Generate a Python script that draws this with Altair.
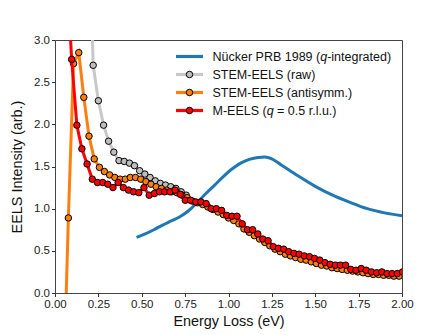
import altair as alt
import pandas as pd

# ---------------- data ----------------
nucker_x = [0.47, 0.52, 0.57, 0.62, 0.67, 0.72, 0.77, 0.82, 0.87, 0.92, 0.97, 1.02, 1.07,
            1.12, 1.17, 1.21, 1.25, 1.30, 1.40, 1.50, 1.60, 1.70, 1.80, 1.90, 2.00]
nucker_y = [0.66, 0.70, 0.75, 0.805, 0.855, 0.905, 0.975, 1.075, 1.18, 1.28, 1.38, 1.47, 1.54,
            1.585, 1.608, 1.612, 1.59, 1.525, 1.39, 1.265, 1.16, 1.075, 1.00, 0.95, 0.915]

raw_x = [0.190, 0.220, 0.250, 0.280, 0.309, 0.339, 0.369, 0.399, 0.429, 0.458, 0.488, 0.518,
         0.548, 0.578, 0.607, 0.637, 0.667, 0.697, 0.727, 0.756]
raw_y = [5.0, 2.70, 2.28, 1.99, 1.80, 1.67, 1.57, 1.56, 1.54, 1.51, 1.45, 1.41,
         1.37, 1.33, 1.30, 1.28, 1.26, 1.24, 1.20, 1.16]

anti_x = [0.047, 0.077, 0.107, 0.137, 0.166, 0.196, 0.226, 0.256, 0.285, 0.315, 0.345, 0.375,
          0.405, 0.434, 0.464, 0.494, 0.524, 0.553, 0.583, 0.613, 0.643, 0.672, 0.702, 0.732,
          0.762, 0.792, 0.821, 0.851, 0.881, 0.911, 0.940, 0.970, 1.000, 1.030, 1.060, 1.089,
          1.119, 1.149, 1.179, 1.209, 1.238, 1.268, 1.298, 1.328, 1.357, 1.387, 1.417, 1.447,
          1.477, 1.506, 1.536, 1.566, 1.596, 1.626, 1.655, 1.685, 1.715, 1.745, 1.775, 1.804,
          1.834, 1.864, 1.894, 1.924, 1.953, 1.983]
anti_y = [-1.3, 0.89, 2.72, 2.85, 2.32, 1.86, 1.59, 1.49, 1.44, 1.40, 1.37, 1.35,
          1.35, 1.37, 1.37, 1.35, 1.32, 1.29, 1.26, 1.24, 1.22, 1.20, 1.19, 1.16,
          1.13, 1.09, 1.07, 1.05, 1.02, 0.99, 0.96, 0.93, 0.89, 0.86, 0.82, 0.76,
          0.72, 0.68, 0.64, 0.60, 0.56, 0.52, 0.49, 0.46, 0.44, 0.42, 0.40, 0.39,
          0.37, 0.35, 0.33, 0.32, 0.30, 0.29, 0.28, 0.27, 0.26, 0.25, 0.24, 0.23,
          0.22, 0.22, 0.21, 0.21, 0.20, 0.20]

meels_x = [0.066, 0.096, 0.126, 0.155, 0.185, 0.215, 0.245, 0.275, 0.304, 0.334, 0.364, 0.394,
           0.424, 0.453, 0.483, 0.513, 0.543, 0.573, 0.602, 0.632, 0.662, 0.692, 0.722, 0.751,
           0.781, 0.811, 0.841, 0.871, 0.900, 0.930, 0.960, 0.990, 1.020, 1.049, 1.079, 1.109,
           1.139, 1.169, 1.198, 1.228, 1.258, 1.288, 1.318, 1.347, 1.377, 1.407, 1.437, 1.467,
           1.496, 1.526, 1.556, 1.586, 1.616, 1.645, 1.675, 1.705, 1.735, 1.765, 1.794, 1.824,
           1.854, 1.884, 1.914, 1.943, 1.973, 2.003]
meels_y = [3.9, 2.77, 1.99, 1.71, 1.53, 1.35, 1.31, 1.31, 1.29, 1.25, 1.31, 1.25,
           1.22, 1.20, 1.19, 1.25, 1.16, 1.18, 1.20, 1.20, 1.20, 1.22, 1.17, 1.10,
           1.10, 1.08, 1.08, 1.06, 1.00, 1.00, 0.98, 0.92, 0.91, 0.91, 0.82, 0.75,
           0.75, 0.70, 0.64, 0.62, 0.55, 0.53, 0.52, 0.49, 0.47, 0.46, 0.44, 0.43,
           0.41, 0.39, 0.36, 0.34, 0.33, 0.33, 0.33, 0.28, 0.27, 0.29, 0.27, 0.25,
           0.24, 0.25, 0.23, 0.23, 0.23, 0.25]

x_ticks = [0, 0.25, 0.5, 0.75, 1.0, 1.25, 1.5, 1.75, 2.0]
y_ticks = [0, 0.5, 1.0, 1.5, 2.0, 2.5, 3.0]

BLUE = "#1f77b4"
GRAY_L = "#c8c8c8"
GRAY_M = "#bebebe"
ORANGE = "#ff7f0e"
RED = "#ff0000"
FONT = "Liberation Sans"

def X():
    return alt.X("x:Q", scale=alt.Scale(domain=[0, 2], nice=False, zero=False),
                 axis=alt.Axis(values=x_ticks, format=".2f"), title="Energy Loss (eV)")

def Y():
    return alt.Y("y:Q", scale=alt.Scale(domain=[0, 3], nice=False, zero=False),
                 axis=alt.Axis(values=y_ticks, format=".1f"), title="EELS Intensity (arb.)")

def df(xs, ys):
    return pd.DataFrame({"x": xs, "y": ys})

LW = 3
PSIZE = 42

def series(xs, ys, line_color, fill):
    d = df(xs, ys)
    line = alt.Chart(d).mark_line(color=line_color, strokeWidth=LW, clip=True).encode(x=X(), y=Y())
    pts = alt.Chart(d).mark_point(shape="circle", filled=True, fill=fill, stroke="black",
                                  strokeWidth=1, size=PSIZE, opacity=1, clip=True).encode(x=X(), y=Y())
    return [line, pts]

layers = []
layers.append(alt.Chart(df(nucker_x, nucker_y)).mark_line(color=BLUE, strokeWidth=3, clip=True,
                                                          interpolate="monotone")
              .encode(x=X(), y=Y()))
layers += series(raw_x, raw_y, GRAY_L, GRAY_M)
layers += series(anti_x, anti_y, ORANGE, ORANGE)
layers += series(meels_x, meels_y, RED, RED)

# ---------------- legend (manual, for italic q) ----------------
one = pd.DataFrame({"a": [0]})
LX0, LX1, LXM, TX = 121, 148, 134.5, 157.5
rows_y = [16.5, 34.5, 52.5, 70.5]
leg_colors = [BLUE, GRAY_L, ORANGE, RED]
leg_fills = [None, GRAY_M, ORANGE, RED]
FS = 12.5
for i, (yy, c, f) in enumerate(zip(rows_y, leg_colors, leg_fills)):
    layers.append(alt.Chart(one).mark_rule(color=c, strokeWidth=3.2)
                  .encode(x=alt.value(LX0), x2=alt.value(LX1), y=alt.value(yy)))
    if f is not None:
        layers.append(alt.Chart(one).mark_point(shape="circle", filled=True, fill=f, stroke="black",
                                                strokeWidth=1, size=PSIZE, opacity=1)
                      .encode(x=alt.value(LXM), y=alt.value(yy)))

def txt(s, x, y, italic=False):
    return alt.Chart(one).mark_text(text=s, align="left", baseline="middle", font=FONT,
                                    fontSize=FS, color="#111",
                                    fontStyle="italic" if italic else "normal",
                                    ).encode(x=alt.value(x), y=alt.value(y + 0.5))

w_pre1 = 8.614 * FS
w_q = 0.556 * FS
w_sp = 0.278 * FS
w_pre4 = 4.334 * FS
layers += [
    txt("Nücker PRB 1989 (", TX, rows_y[0]),
    txt("q", TX + w_pre1, rows_y[0], italic=True),
    txt("-integrated)", TX + w_pre1 + w_q, rows_y[0]),
    txt("STEM-EELS (raw)", TX, rows_y[1]),
    txt("STEM-EELS (antisymm.)", TX, rows_y[2]),
    txt("M-EELS (", TX, rows_y[3]),
    txt("q", TX + w_pre4, rows_y[3], italic=True),
    txt("= 0.5 r.l.u.)", TX + w_pre4 + w_q + w_sp, rows_y[3]),
]

chart = alt.layer(*layers).properties(
    width=347, height=253,
    autosize=alt.AutoSizeParams(type="none"),
    padding={"left": 47, "top": 32, "right": 30, "bottom": 40},
).configure_view(
    stroke="#444", strokeWidth=1
).configure_axis(
    grid=False, domain=False, ticks=True, tickColor="#333", tickSize=3.5, tickWidth=1,
    labelFont=FONT, labelFontSize=11.5, labelColor="#222", labelPadding=2,
    labelFlush=False, labelOverlap=False,
    titleFont=FONT, titleFontSize=14.4, titleFontWeight="normal", titleColor="#111",
).configure_axisX(titlePadding=4).configure_axisY(titlePadding=9)

chart.save("out.html", embed_options={"renderer": "svg", "actions": False})
